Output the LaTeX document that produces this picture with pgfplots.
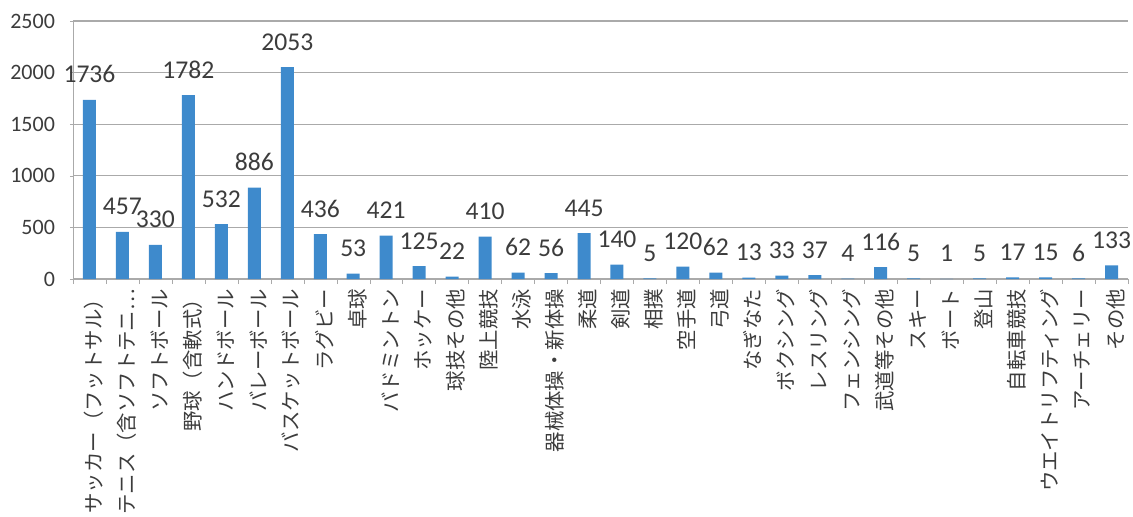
\documentclass[border=0pt]{standalone}
\usepackage{pgfplots}
\pgfplotsset{compat=1.18}
\usepackage{fontspec}
\setmainfont{Carlito}
\newfontfamily\jp{Noto Sans CJK JP}
\definecolor{barblue}{RGB}{62,138,204}
\definecolor{gridgray}{RGB}{170,170,170}
\definecolor{txtgray}{RGB}{60,60,60}
\begin{document}
\begin{tikzpicture}
\begin{axis}[
	scale only axis,
	width=527.5pt, height=129pt,
	xmin=-0.5, xmax=31.5,
	ymin=0, ymax=2500,
	ytick={0,500,...,2500},
	xtick={0,...,31},
	minor xtick={-0.5,0.5,...,31.5},
	xticklabels={サッカー（フットサル）,テニス（含ソフトテニ…,ソフトボール,野球（含軟式）,ハンドボール,バレーボール,バスケットボール,ラグビー,卓球,バドミントン,ホッケー,球技その他,陸上競技,水泳,器械体操・新体操,柔道,剣道,相撲,空手道,弓道,なぎなた,ボクシング,レスリング,フェンシング,武道等その他,スキー,ボート,登山,自転車競技,ウエイトリフティング,アーチェリー,その他},
	axis x line=bottom, axis y line=left,
	axis line style={gridgray, -},
	tick align=outside,
	major tick length=1.5pt, minor tick length=2.5pt,
	x tick style={draw=none}, minor x tick style={draw=gridgray},
	y tick style={gridgray},
	ymajorgrids, grid style={gridgray, line width=0.6pt},
	xticklabel style={font=\jp\fontsize{10.2}{11}\selectfont, text=txtgray, rotate=90, anchor=east, yshift=-2pt},
	yticklabel style={font=\fontsize{11}{12}\selectfont, text=txtgray, xshift=-4pt},
	/pgf/number format/assume math mode=true,
	/pgf/number format/set thousands separator={},
	scaled y ticks=false,
	ybar, bar width=6.5pt,
	nodes near coords,
	every node near coord/.append style={font=\fontsize{12.8}{14}\selectfont, text=txtgray, anchor=base, yshift=8.5pt,
		/pgf/number format/set thousands separator={}},
	clip=false,
]
\addplot[fill=barblue, draw=none] coordinates {
(0,1736) (1,457) (2,330) (3,1782) (4,532) (5,886) (6,2053) (7,436)
(8,53) (9,421) (10,125) (11,22) (12,410) (13,62) (14,56) (15,445)
(16,140) (17,5) (18,120) (19,62) (20,13) (21,33) (22,37) (23,4)
(24,116) (25,5) (26,1) (27,5) (28,17) (29,15) (30,6) (31,133)
};
\end{axis}
\pgfresetboundingbox
\useasboundingbox (-36.5pt,-118.5pt) rectangle (530pt,139.5pt);
\end{tikzpicture}
\end{document}
